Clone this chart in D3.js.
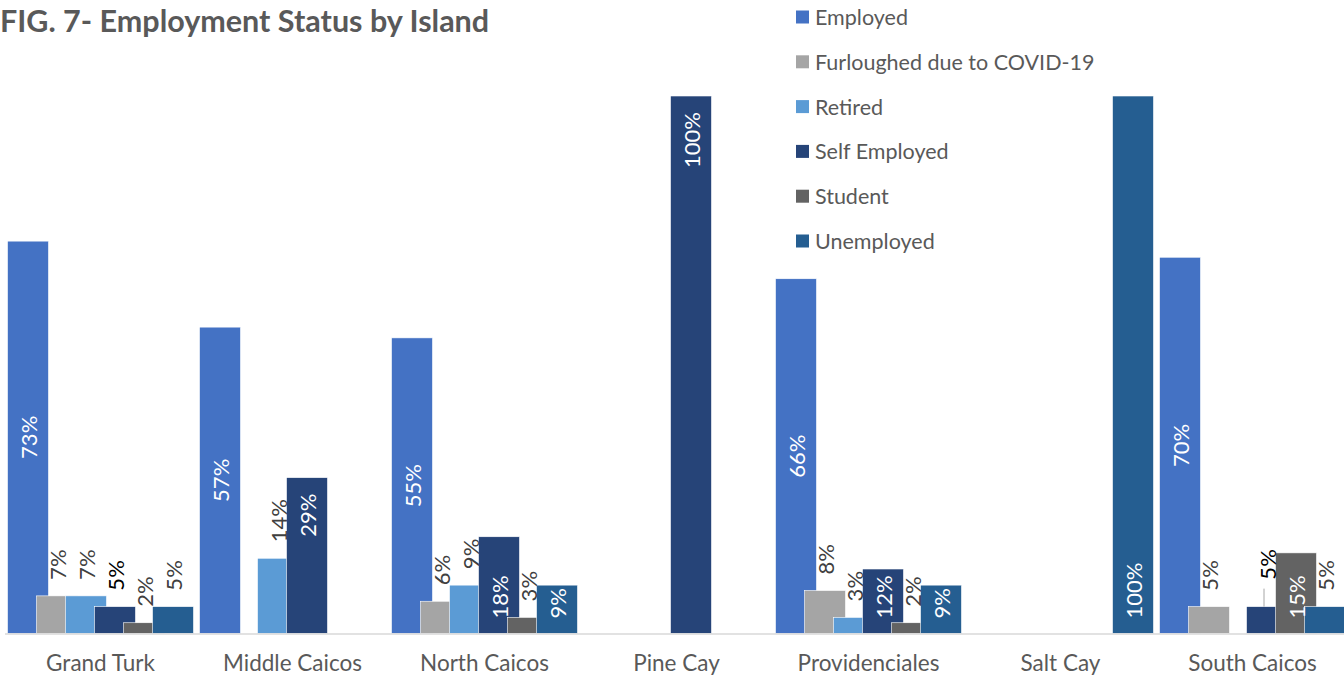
<!DOCTYPE html>
<html>
<head>
<meta charset="utf-8">
<script src="https://cdn.jsdelivr.net/npm/d3@7/dist/d3.min.js"></script>
<style>
  html, body { margin: 0; padding: 0; background: #fff; }
  svg { display: block; }
  text { font-family: Lato, "Open Sans", sans-serif; }
</style>
</head>
<body>
<svg id="chart" width="1344" height="675"></svg>
<script>
// Employment status shares (%) per island; null = no respondents in that group
const islands = ["Grand Turk", "Middle Caicos", "North Caicos", "Pine Cay", "Providenciales", "Salt Cay", "South Caicos"];
const statuses = ["Employed", "Furloughed due to COVID-19", "Retired", "Self Employed", "Student", "Unemployed"];
const employed     = [73, 57, 55, null, 66, null, 70];
const furloughed   = [7, null, 6, null, 8, null, 5];
const retired      = [7, 14, 9, null, 3, null, null];
const selfEmployed = [5, 29, 18, 100, 12, null, 5];
const student      = [2, null, 3, null, 2, null, 15];
const unemployed   = [5, null, 9, null, 9, 100, 5];
const seriesValues = [employed, furloughed, retired, selfEmployed, student, unemployed];
const colors = ["#4472C4", "#A5A5A5", "#5B9BD5", "#264478", "#636363", "#255E91"];

const svg = d3.select("#chart");
const base = 633.5, top100 = 96;

// Category scale and the overlapping cluster within each category
const x0 = d3.scaleBand().domain(islands).range([4.5, 4.5 + 192 * 7]).paddingInner(0).paddingOuter(0);
const band = x0.bandwidth();
const barW = band * 41 / 192;
const step = band * 29 / 192;
const clusterOffset = (band - (5 * step + barW)) / 2;
const xs = d3.scalePoint().domain(statuses).range([0, 5 * step]);
const y = d3.scaleLinear().domain([0, 100]).range([base, top100]);

const rows = [];
islands.forEach((isl, ci) => {
  statuses.forEach((st, si) => {
    const v = seriesValues[si][ci];
    if (v == null) return;
    rows.push({ island: isl, status: st, si, value: v,
      x: x0(isl) + clusterOffset + xs(st) });
  });
});

// Bars: later series sit on top of earlier ones
svg.append("g").selectAll("rect").data(rows).join("rect")
  .attr("x", d => d.x)
  .attr("y", d => y(d.value))
  .attr("width", barW)
  .attr("height", d => y(0) - y(d.value))
  .attr("fill", d => colors[d.si])
  .attr("stroke", "#fff")
  .attr("stroke-width", 0.6);

// Category axis along the baseline
const axis = svg.append("g").attr("transform", `translate(0,${base})`)
  .call(d3.axisBottom(x0).tickSize(0).tickPadding(22));
axis.select(".domain").attr("stroke", "#D9D9D9").attr("stroke-width", 1.5);
axis.selectAll("text").attr("fill", "#595959").style("font-size", "22.5px")
  .style("font-family", "Lato, 'Open Sans', sans-serif");

// Data label placement
function placement(d) {
  if (d.si === 0) return "center";
  if (d.status === "Self Employed" && d.value >= 25) return "end";
  if (d.si >= 3 && d.value >= 9) return "base";
  return "outside";
}
const labels = svg.append("g");
rows.forEach(d => {
  const mode = placement(d);
  const cx = d.x + barW / 2;
  const yTop = y(d.value);
  let ly, anchor, fill;
  const raised = d.island === "South Caicos" && d.status === "Self Employed";
  if (mode === "center") { ly = (yTop + base) / 2; anchor = "middle"; fill = "#fff"; }
  else if (mode === "end") { ly = yTop + 16; anchor = "end"; fill = "#fff"; }
  else if (mode === "base") { ly = base - 15; anchor = "start"; fill = "#fff"; }
  else {
    ly = yTop - (raised ? 27 : 16); anchor = "start";
    fill = d.status === "Self Employed" ? "#000" : "#404040";
  }
  if (raised) {
    labels.append("line")
      .attr("x1", cx - 3).attr("x2", cx - 3)
      .attr("y1", yTop).attr("y2", ly + 9)
      .attr("stroke", "#A6A6A6").attr("stroke-width", 1);
  }
  labels.append("text")
    .attr("transform", `translate(${cx},${ly}) rotate(-90)`)
    .attr("text-anchor", anchor)
    .attr("dominant-baseline", "central")
    .attr("fill", fill)
    .style("font-size", "22px")
    .text(d.value + "%");
});

// Legend
const legend = svg.append("g");
statuses.forEach((st, i) => {
  const ly = 17 + i * 44.8;
  legend.append("rect").attr("x", 796).attr("y", ly - 6.5).attr("width", 13).attr("height", 13)
    .attr("fill", colors[i]);
  legend.append("text").attr("x", 815).attr("y", ly).attr("dominant-baseline", "central")
    .attr("fill", "#595959").style("font-size", "21.5px").text(st);
});

// Title
svg.append("text").attr("x", 0).attr("y", 32)
  .attr("fill", "#595959").style("font-size", "30.5px").style("font-weight", "700")
  .text("FIG. 7- Employment Status by Island");
</script>
</body>
</html>
